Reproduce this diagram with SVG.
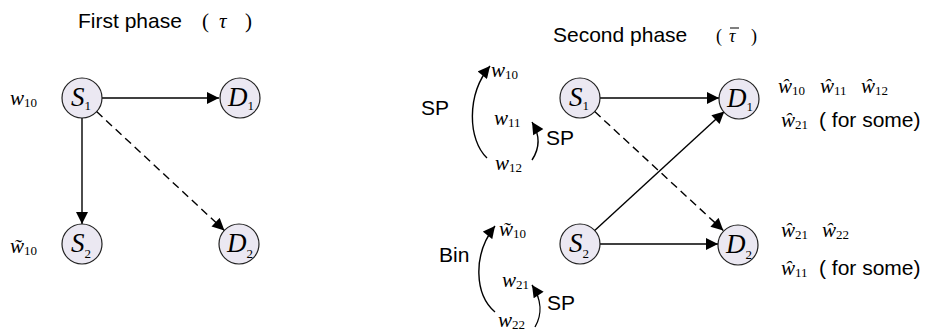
<svg xmlns="http://www.w3.org/2000/svg" width="929" height="332" viewBox="0 0 929 332">
<style>
.t{font-family:"Liberation Sans",Arial,sans-serif;font-size:21px;fill:#000}
.m{font-family:"Liberation Serif","Times New Roman",serif;font-style:italic;font-size:21px;fill:#000}
.sub{font-style:normal;font-size:13px}
.node circle{fill:#ebe8f2;stroke:#222;stroke-width:1.2}
.node text{font-family:"Liberation Serif","Times New Roman",serif;font-style:italic;font-size:27px;fill:#000}
.node tspan{font-style:normal;font-size:13px}
.c{stroke:#000;stroke-width:1.4;fill:none;marker-end:url(#ah)}
.d{stroke-dasharray:8 5}
</style>
<defs>
<marker id="ah" viewBox="0 0 10 10" refX="10" refY="5" markerWidth="13" markerHeight="12" markerUnits="userSpaceOnUse" orient="auto">
<path d="M0,0 L10,5 L0,10 z" fill="#000"/>
</marker>
</defs>

<!-- titles -->
<text class="t" x="78" y="28">First phase</text>
<text class="m" x="202" y="28" style="font-style:normal">(</text>
<text class="m" x="219" y="28">τ</text>
<text class="m" x="245" y="28" style="font-style:normal">)</text>

<text class="t" x="553" y="42">Second phase</text>
<text class="m" x="716" y="42" style="font-style:normal;font-size:18px">(</text>
<text class="m" x="729" y="42" style="font-size:18px">τ</text>
<line x1="730" y1="28" x2="739" y2="28" stroke="#000" stroke-width="1"/>
<text class="m" x="751" y="42" style="font-style:normal;font-size:18px">)</text>

<!-- connectors -->
<g id="connectors">
<line class="c" x1="102" y1="98" x2="219" y2="98"/>
<line class="c" x1="82" y1="118" x2="82" y2="224"/>
<line class="c d" x1="96.6" y1="111.6" x2="224.4" y2="230.4"/>
<line class="c" x1="600" y1="98" x2="719" y2="98"/>
<line class="c" x1="600" y1="244" x2="718" y2="244"/>
<line class="c" x1="594.7" y1="230.5" x2="724.3" y2="111.5"/>
<line class="c d" x1="594.7" y1="111.6" x2="723.3" y2="230.4"/>
<path class="c" d="M487,158 C468,140 466,95 490,66"/>
<path class="c" d="M532,160 C540,148 540,135 532,122"/>
<path class="c" d="M495,312 C475,295 472,255 495,226"/>
<path class="c" d="M535,327 C542,315 542,300 532,285"/>
</g>

<!-- nodes first phase -->
<g id="p1_S1" class="node"><circle cx="82" cy="98" r="20"/><text x="71" y="106">S<tspan dy="4">1</tspan></text></g>
<g id="p1_D1" class="node"><circle cx="240" cy="98" r="20"/><text x="228" y="106">D<tspan dy="4">1</tspan></text></g>
<g id="p1_S2" class="node"><circle cx="82" cy="244" r="20"/><text x="71" y="252">S<tspan dy="6">2</tspan></text></g>
<g id="p1_D2" class="node"><circle cx="239" cy="244" r="20"/><text x="227" y="252">D<tspan dy="6">2</tspan></text></g>

<!-- nodes second phase -->
<g id="p2_S1" class="node"><circle cx="580" cy="98" r="20"/><text x="569" y="106">S<tspan dy="4">1</tspan></text></g>
<g id="p2_D1" class="node"><circle cx="739" cy="99" r="20"/><text x="727" y="107">D<tspan dy="4">1</tspan></text></g>
<g id="p2_S2" class="node"><circle cx="580" cy="244" r="20"/><text x="569" y="252">S<tspan dy="6">2</tspan></text></g>
<g id="p2_D2" class="node"><circle cx="738" cy="245" r="20"/><text x="726" y="253">D<tspan dy="6">2</tspan></text></g>

<!-- labels first phase -->
<text class="m" x="10" y="105">w<tspan class="sub" dy="2">10</tspan></text>
<text class="m" x="10" y="253">w̃<tspan class="sub" dy="2">10</tspan></text>

<!-- labels second phase left -->
<text class="t" x="421" y="115">SP</text>
<text class="m" x="491" y="77">w<tspan class="sub" dy="2">10</tspan></text>
<text class="m" x="494" y="125">w<tspan class="sub" dy="2">11</tspan></text>
<text class="t" x="546" y="145">SP</text>
<text class="m" x="495" y="170">w<tspan class="sub" dy="2">12</tspan></text>

<text class="t" x="439" y="262">Bin</text>
<text class="m" x="499" y="236">w̃<tspan class="sub" dy="2">10</tspan></text>
<text class="m" x="502" y="287">w<tspan class="sub" dy="2">21</tspan></text>
<text class="t" x="547" y="310">SP</text>
<text class="m" x="498" y="327">w<tspan class="sub" dy="2">22</tspan></text>

<!-- labels second phase right -->
<text class="m" x="778" y="93">ŵ<tspan class="sub" dy="2">10</tspan></text>
<text class="m" x="820" y="93">ŵ<tspan class="sub" dy="2">11</tspan></text>
<text class="m" x="861" y="93">ŵ<tspan class="sub" dy="2">12</tspan></text>
<text class="m" x="781" y="127">ŵ<tspan class="sub" dy="2">21</tspan></text>
<text class="t" x="819" y="127">( for some)</text>

<text class="m" x="781" y="237">ŵ<tspan class="sub" dy="2">21</tspan></text>
<text class="m" x="822" y="237">ŵ<tspan class="sub" dy="2">22</tspan></text>
<text class="m" x="781" y="275">ŵ<tspan class="sub" dy="2">11</tspan></text>
<text class="t" x="819" y="275">( for some)</text>
</svg>
